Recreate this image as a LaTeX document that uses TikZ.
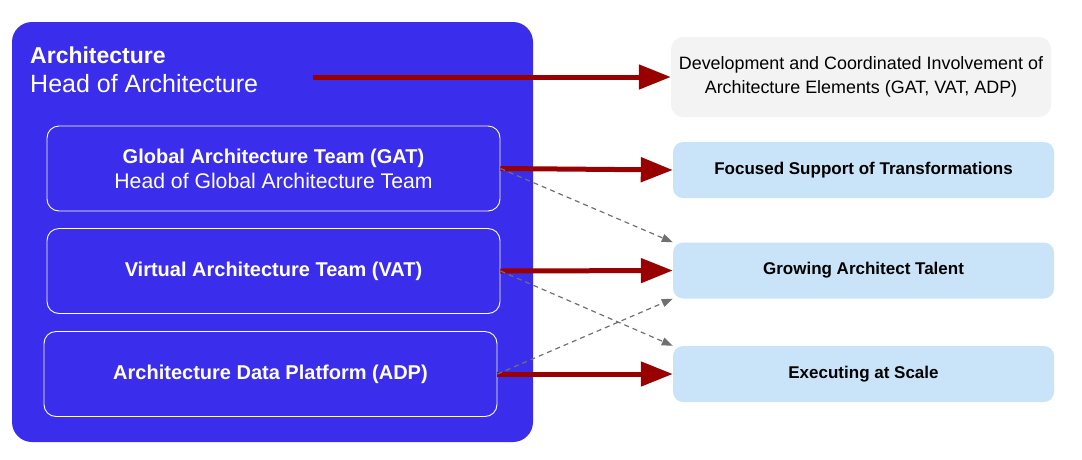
\documentclass[tikz,border=0pt]{standalone}
\usepackage{fontspec}
\setmainfont{Liberation Sans}
\usepackage{tikz}
\usetikzlibrary{arrows.meta, positioning}

\definecolor{archblue}{RGB}{58,45,235}
\definecolor{goalblue}{RGB}{201,228,248}
\definecolor{devgray}{RGB}{243,243,243}
\definecolor{arrowred}{RGB}{153,0,0}
\definecolor{linkgray}{RGB}{112,112,112}

\begin{document}
\begin{tikzpicture}[
    x=1pt, y=-1pt,
    % Define styles for consistency
    outer_box/.style={fill=archblue, rounded corners=20pt, minimum width=521pt, minimum height=420pt, inner sep=0pt},
    title_bold/.style={font=\fontsize{23}{27}\selectfont\bfseries, text=white, inner sep=0pt},
    title_plain/.style={font=\fontsize{25}{28}\selectfont, text=white, inner sep=0pt},
    team_box/.style={draw=white, line width=0.9pt, rounded corners=12pt, minimum width=453pt, minimum height=85pt, align=center, text=white, font=\fontsize{20}{25}\selectfont},
    team_head/.style={font=\fontsize{21.2}{25}\selectfont},
    goal_box/.style={fill=goalblue, rounded corners=10pt, minimum width=381pt, minimum height=56pt, font=\fontsize{17}{22}\selectfont\bfseries},
    dev_box/.style={fill=devgray, rounded corners=12pt, minimum width=380pt, minimum height=80pt, align=center, font=\fontsize{17.9}{23.5}\selectfont},
    main_arrow/.style={draw=arrowred, line width=5pt, -{Triangle[length=32pt, width=24pt]}},
    link_arrow/.style={draw=linkgray, line width=1.2pt, dash pattern=on 5pt off 4pt, -{Triangle[length=11pt, width=8pt]}}
]
    \useasboundingbox (0,0) rectangle (1082,459);

    % ---------------------------------------------------------
    % 1. Architecture block
    % ---------------------------------------------------------
    \node[outer_box] (arch) at (272.5, 232) {};
    \node[title_bold, anchor=base west] (arch_name) at (30, 63) {Architecture};
    \node[title_plain, anchor=base west] (arch_head) at (30, 92) {Head of Architecture};
    \coordinate (arch_out) at (313, 77);

    % Teams
    \node[team_box] (gat) at (273.5, 168.5) {\textbf{Global Architecture Team (GAT)}\\{\fontsize{21.2}{25}\selectfont Head of Global Architecture Team}};
    \node[team_box] (vat) at (273.5, 271) {\textbf{Virtual Architecture Team (VAT)}};
    \node[team_box] (adp) at (270.5, 374) {\textbf{Architecture Data Platform (ADP)}};

    % ---------------------------------------------------------
    % 2. Goals
    % ---------------------------------------------------------
    \node[dev_box] (dev) at (861, 77) {Development and Coordinated Involvement of\\Architecture Elements (GAT, VAT, ADP)};
    \node[goal_box] (focus) at (863.5, 170) {Focused Support of Transformations};
    \node[goal_box] (grow) at (863.5, 270.5) {Growing Architect Talent};
    \node[goal_box] (exec) at (863.5, 374) {Executing at Scale};

    % ---------------------------------------------------------
    % 3. Connectors
    % ---------------------------------------------------------
    \draw[main_arrow] (arch_out) -- (dev.west);
    \foreach \from/\to in {gat/focus, vat/grow, adp/exec} {
        \draw[main_arrow] (\from.east) -- (\to.west);
    }

    \draw[link_arrow] (gat.east) -- (grow.north west);
    \draw[link_arrow] (vat.east) -- (exec.north west);
    \draw[link_arrow] (adp.east) -- (grow.south west);
\end{tikzpicture}
\end{document}
